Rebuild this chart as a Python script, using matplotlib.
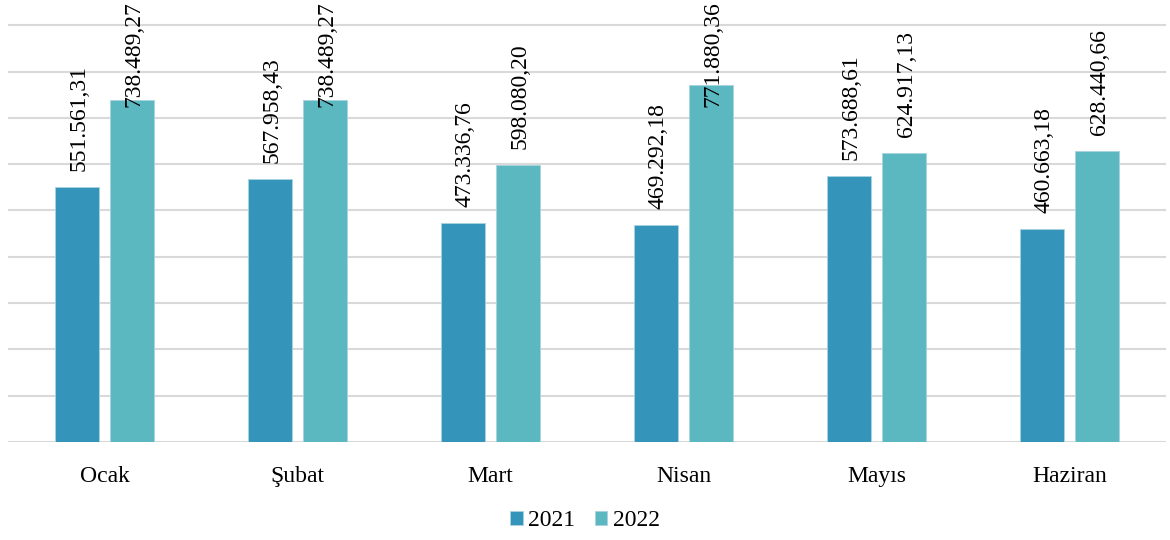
import matplotlib.pyplot as plt
import numpy as np

months = ['Ocak', 'Şubat', 'Mart', 'Nisan', 'Mayıs', 'Haziran']
values_2021 = [551561.31, 567958.43, 473336.76, 469292.18, 573688.61, 460663.18]
values_2022 = [738489.27, 738489.27, 598080.20, 771880.36, 624917.13, 628440.66]
years = ['2021', '2022']
colors = ['#3594BA', '#5BB7C0']


def tr_format(v):
    # Turkish number style: dot for thousands, comma for decimals
    s = f'{v:,.2f}'
    return s.replace(',', 'X').replace('.', ',').replace('X', '.')


plt.rcParams['font.family'] = ['Liberation Serif', 'DejaVu Serif']

fig = plt.figure(figsize=(11.7, 5.4), dpi=100)
ax = fig.add_axes([8 / 1170, 98 / 540, 1158 / 1170, 442 / 540])

x = np.arange(len(months))
width = 0.223
offset = 0.1425

bars = []
for i, (vals, col) in enumerate(zip([values_2021, values_2022], colors)):
    pos = x + (offset if i else -offset)
    ax.bar(pos, vals, width, color=col, edgecolor='#A9D3E0', linewidth=0.6,
           label=years[i], zorder=3)
    bars.append((pos, vals))

ax.set_xlim(-0.5, len(months) - 0.5)
ax.set_ylim(0, 954600)
ax.set_yticks(np.arange(0, 900001, 100000))
ax.yaxis.grid(True, color='#D9D9D9', linewidth=1.5, zorder=0)
ax.tick_params(axis='y', left=False, labelleft=False)
ax.tick_params(axis='x', bottom=False, labelsize=17, pad=14)
ax.set_xticks(x)
ax.set_xticklabels(months)
for s in ax.spines.values():
    s.set_visible(False)

texts = []
for pos, vals in bars:
    for p, v in zip(pos, vals):
        t = ax.annotate(tr_format(v), (p, v), xytext=(1.5, 11.5), textcoords='offset points',
                        rotation=90, ha='center', va='bottom', fontsize=17, zorder=4)
        texts.append(t)

# keep labels inside the figure: push the ones that run off the top down
fig.canvas.draw()
renderer = fig.canvas.get_renderer()
fig_h = fig.bbox.height
for t in texts:
    bb = t.get_window_extent(renderer)
    if bb.y1 > fig_h - 1:
        shift = (bb.y1 - (fig_h - 1)) * 72 / fig.dpi
        ox, oy = t.xyann
        t.xyann = (ox, oy - shift)

ax.legend(loc='center', bbox_to_anchor=(0.5, 19 / 540), bbox_transform=fig.transFigure,
          ncol=2, frameon=False, fontsize=17, handlelength=0.55, handleheight=0.55,
          handletextpad=0.25, columnspacing=0.8)

fig.savefig('out.png', dpi=100)
